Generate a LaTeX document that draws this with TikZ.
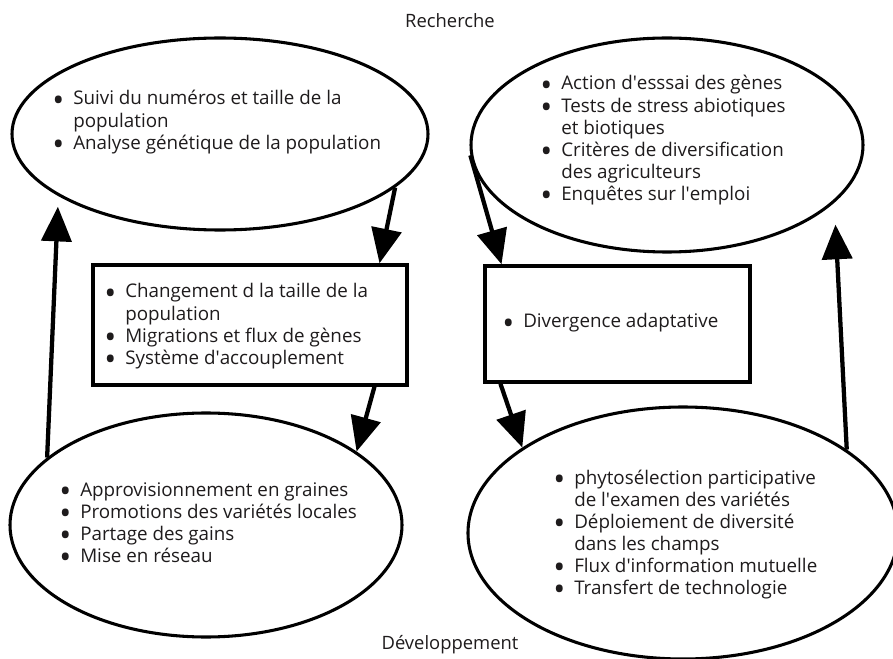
\documentclass[tikz,border=0pt]{standalone}
\usepackage{fontspec}
\usepackage{graphicx}
\setmainfont{Open Sans}
\usetikzlibrary{arrows.meta,calc,shapes.geometric}

\definecolor{ink}{RGB}{30,27,28}

% straight apostrophe
\newcommand\aps{\textquotesingle}
% bulleted lines: a bullet in a fixed-width box, and continuation lines indented to match
\newlength\bulw
\setlength\bulw{15.75pt}
\newcommand\bitem[1]{\hbox{\makebox[\bulw][l]{\raisebox{-4.6pt}[0pt][0pt]{\scalebox{1.7}{\textbullet}}}#1}}
\newcommand\citem[1]{\hbox{\hspace{\bulw}#1}}
\newcommand\blist[1]{\vtop{\baselineskip=16.6pt #1}}

\begin{document}
\begin{tikzpicture}[x=0.75pt,y=-0.75pt,
  ell/.style={draw=black, ellipse, line width=2.3pt, inner sep=0pt},
  panel/.style={draw=black, rectangle, line width=2.6pt, inner sep=0pt},
  txt/.style={anchor=base west, inner sep=0pt, text=ink,
              font=\fontsize{14.1pt}{16.6pt}\selectfont},
  caption/.style={anchor=base, inner sep=0pt, text=ink,
              font=\fontsize{13.8pt}{16.6pt}\selectfont},
  flow/.style={line width=3.2pt, -{Triangle[length=26pt,width=22.5pt]}}]
\useasboundingbox (0,0) rectangle (893,659);

% shapes
\node[ell, minimum width=312pt, minimum height=144pt] (tl) at (220,134) {};
\node[ell, minimum width=294pt, minimum height=160.5pt] (tr) at (667,145) {};
\node[panel, minimum width=235.5pt, minimum height=90pt] (lb) at (250,325) {};
\node[panel, minimum width=198.75pt, minimum height=87pt] (rb) at (617.5,324) {};
\node[ell, minimum width=294pt, minimum height=168pt] (bl) at (206,525) {};
\node[ell, minimum width=322.5pt, minimum height=189pt] (br) at (683,533) {};

% headings
\node[caption] (rech) at (450,28) {Recherche};
\node[caption] (dev) at (450,649) {Développement};

% contents
\node[txt] (tlt) at (52,105) {\blist{%
  \bitem{Suivi du numéros et taille de la}
  \citem{population}
  \bitem{Analyse génétique de la population}}};

\node[txt] (trt) at (540,90) {\blist{%
  \bitem{Action d\aps esssai des gènes}
  \bitem{Tests de stress abiotiques}
  \citem{et biotiques}
  \bitem{Critères de diversification}
  \citem{des agriculteurs}
  \bitem{Enquêtes sur l\aps emploi}}};

\node[txt] (lbt) at (104,298) {\blist{%
  \bitem{Changement d la taille de la}
  \citem{population}
  \bitem{Migrations et flux de gènes}
  \bitem{Système d\aps accouplement}}};

\node[txt] (rbt) at (502,328) {\blist{%
  \bitem{Divergence adaptative}}};

\node[txt] (blt) at (59,496) {\blist{%
  \bitem{Approvisionnement en graines}
  \bitem{Promotions des variétés locales}
  \bitem{Partage des gains}
  \bitem{Mise en réseau}}};

\node[txt] (brt) at (553,484) {\blist{%
  \bitem{phytosélection participative}
  \citem{de l\aps examen des variétés}
  \bitem{Déploiement de diversité}
  \citem{dans les champs}
  \bitem{Flux d\aps information mutuelle}
  \bitem{Transfert de technologie}}};

% cycle arrows
\draw[flow] (tl.-17) -- ($(lb.north west)!0.908!(lb.north east)$);
\draw[flow] ($(lb.south west)!0.892!(lb.south east)$) -- (bl.26);
\draw[flow, shorten >=8pt] (bl.157) -- (tl.201.7);
\draw[flow] (tr.183.6) -- ($(rb.north west)!0.068!(rb.north east)$);
\draw[flow] ($(rb.south west)!0.064!(rb.south east)$) -- (br.152);
\draw[flow, shorten >=16.5pt] (br.27) -- (tr.-19.4);
\end{tikzpicture}
\end{document}
